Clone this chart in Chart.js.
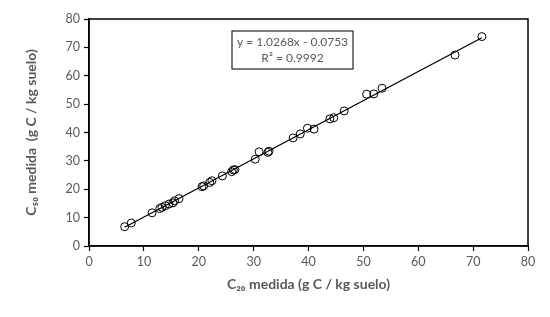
<!DOCTYPE html>
<html>
<head>
<meta charset="utf-8">
<script src="https://cdn.jsdelivr.net/npm/chart.js@4"></script>
<style>
  html, body { margin: 0; padding: 0; background: #fff; }
  #wrap { width: 550px; height: 317px; }
</style>
</head>
<body>
<div id="wrap"><canvas id="scatterChart" width="550" height="317"></canvas></div>
<script>
const c20Values = [6.5, 7.7, 11.5, 12.9, 13.3, 13.9, 14.6, 15.3, 15.6, 16.4, 20.6, 20.9, 22.0, 22.4, 24.3, 26.0, 26.3, 26.6,
    30.3, 31.0, 32.6, 32.8, 37.2, 38.5, 39.8, 41.0, 43.9, 44.6, 46.5, 50.6, 51.9, 53.4, 66.7, 71.6];
const c50Values = [6.8, 8.1, 11.7, 13.2, 13.6, 14.2, 14.8, 15.2, 15.9, 16.7, 20.9, 21.2, 22.4, 23.0, 24.7, 26.2, 26.8, 26.9,
    30.6, 33.2, 33.0, 33.4, 38.1, 39.5, 41.5, 41.2, 44.8, 45.2, 47.6, 53.5, 53.6, 55.6, 67.3, 73.8];

// linear trendline end points
const trendX = [6.5, 71.6];
const trendY = [6.6, 73.4];

const xTicks = [0, 10, 20, 30, 40, 50, 60, 70, 80];
const yTicks = [0, 10, 20, 30, 40, 50, 60, 70, 80];
const equationLines = ['y = 1.0268x - 0.0753', 'R\u00b2 = 0.9992'];

const textGrey = '#595959';
const fontFamily = 'Lato, "Open Sans", sans-serif';

function toPoints(xs, ys) {
    return xs.map(function(x, i) { return { x: x, y: ys[i] }; });
}

// frame round the plot area plus the equation box
const framePlugin = {
    id: 'frame',
    afterDraw: function(chart) {
        const ctx = chart.ctx;
        const a = chart.chartArea;
        ctx.save();
        ctx.strokeStyle = '#000';
        ctx.lineWidth = 1.5;
        ctx.strokeRect(a.left, a.top, a.right - a.left, a.bottom - a.top);

        // equation label, anchored to the plot area like Excel does
        const bx = a.left + 143, by = a.top + 12, bw = 121, bh = 38;
        ctx.fillStyle = '#fff';
        ctx.fillRect(bx, by, bw, bh);
        ctx.lineWidth = 1.2;
        ctx.strokeStyle = '#222';
        ctx.strokeRect(bx, by, bw, bh);
        ctx.fillStyle = textGrey;
        ctx.font = '12px ' + fontFamily;
        ctx.textAlign = 'center';
        ctx.textBaseline = 'middle';
        ctx.fillText(equationLines[0], bx + bw / 2, by + 11);
        ctx.fillText(equationLines[1], bx + bw / 2, by + 27);
        ctx.restore();
    }
};

new Chart(document.getElementById('scatterChart'), {
    type: 'scatter',
    data: {
        datasets: [
            {
                label: 'medidas',
                data: toPoints(c20Values, c50Values),
                pointRadius: 4,
                pointBorderWidth: 1,
                pointBorderColor: '#000',
                pointBackgroundColor: 'rgba(255,255,255,0)',
                order: 1
            },
            {
                label: 'tendencia',
                type: 'line',
                data: toPoints(trendX, trendY),
                borderColor: '#000',
                borderWidth: 1.3,
                pointRadius: 0,
                fill: false,
                order: 2
            }
        ]
    },
    options: {
        responsive: false,
        animation: false,
        layout: { padding: { top: 19, right: 22, left: 19, bottom: 20 } },
        plugins: {
            legend: { display: false },
            tooltip: { enabled: false }
        },
        scales: {
            x: {
                type: 'linear',
                min: 0,
                max: 80,
                afterBuildTicks: function(scale) { scale.ticks = xTicks.map(function(v) { return { value: v }; }); },
                afterFit: function(scale) { scale.height = 51; },
                grid: { drawOnChartArea: false, color: '#000', tickLength: 5, tickWidth: 1.2 },
                border: { color: '#000', width: 1.5 },
                ticks: { color: textGrey, font: { size: 12.5, family: fontFamily }, padding: 3 },
                title: {
                    display: true,
                    text: 'C\u2082\u2080 medida (g C / kg suelo)',
                    color: textGrey,
                    font: { size: 14, weight: 'bold', family: fontFamily },
                    padding: { top: 6 }
                }
            },
            y: {
                type: 'linear',
                min: 0,
                max: 80,
                afterBuildTicks: function(scale) { scale.ticks = yTicks.map(function(v) { return { value: v }; }); },
                afterFit: function(scale) { scale.width = 70; },
                grid: { drawOnChartArea: false, color: '#000', tickLength: 5, tickWidth: 1.2 },
                border: { color: '#000', width: 1.5 },
                ticks: { color: textGrey, font: { size: 12.5, family: fontFamily }, padding: 4 },
                title: {
                    display: true,
                    text: 'C\u2085\u2080 medida  (g C / kg suelo)',
                    color: textGrey,
                    font: { size: 14, weight: 'bold', family: fontFamily },
                    padding: { bottom: 6 }
                }
            }
        }
    },
    plugins: [framePlugin]
});
</script>
</body>
</html>
